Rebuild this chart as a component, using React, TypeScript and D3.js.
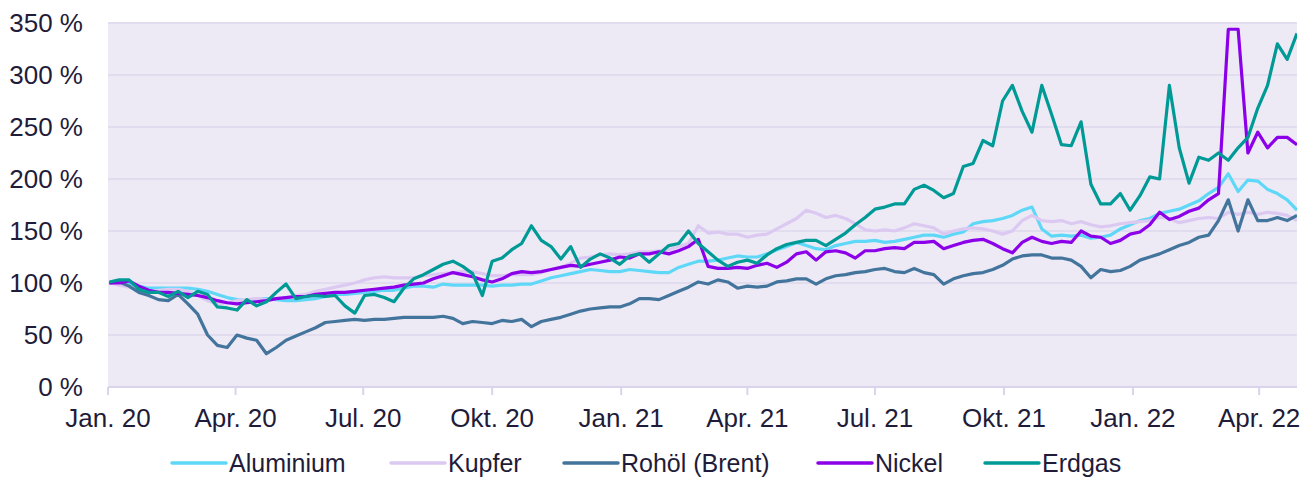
import React from "react";
import * as d3 from "d3";

// weekly closes, indexed to 100 % on 2 Jan 2020
const startDate = new Date(2020, 0, 2);
const weekCount = 122;
const dates: Date[] = d3.range(weekCount).map((i) => d3.timeDay.offset(startDate, i * 7));

const aluminium = [
  100, 100, 99, 97, 95, 95, 95, 95, 95, 94, 92, 89, 86, 84, 83, 84, 85, 84, 83, 83,
  84, 85, 87, 89, 89, 90, 91, 92, 93, 93, 95, 97, 97, 96, 99, 98, 98, 98, 98, 97,
  98, 98, 99, 99, 102, 105, 107, 109, 111, 113, 112, 111, 111, 113, 112, 111, 110, 110, 115, 118,
  121, 121, 122, 124, 126, 125, 125, 128, 132, 135, 139, 136, 133, 132, 136, 138, 140, 140, 141, 139,
  140, 142, 144, 146, 146, 144, 147, 149, 157, 159, 160, 162, 165, 170, 173, 152, 145, 146, 145, 146,
  143, 144, 146, 152, 156, 160, 162, 167, 169, 171, 175, 179, 186, 192, 205, 188, 199, 198, 190, 186,
  180, 170,
];

const kupfer = [
  100, 98, 96, 93, 92, 93, 94, 94, 92, 88, 83, 80, 81, 83, 84, 85, 84, 85, 86, 88,
  89, 92, 94, 96, 98, 100, 103, 105, 106, 105, 105, 105, 107, 108, 109, 110, 111, 111, 109, 107,
  107, 108, 108, 108, 110, 113, 115, 119, 124, 125, 127, 128, 127, 128, 130, 130, 131, 132, 135, 138,
  155, 148, 149, 147, 147, 144, 146, 147, 152, 157, 162, 170, 167, 163, 165, 162, 157, 151, 150, 151,
  150, 153, 157, 155, 153, 147, 150, 152, 153, 152, 150, 147, 150, 160, 165, 160, 159, 160, 157, 159,
  156, 154, 155, 157, 158, 159, 160, 163, 162, 158, 160, 162, 163, 162, 168, 166, 168, 166, 168, 167,
  165, 160,
];

const rohoel = [
  100, 101, 97, 91, 88, 84, 83, 89, 80, 70, 50, 40, 38, 50, 47, 45, 32, 38, 45, 49,
  53, 57, 62, 63, 64, 65, 64, 65, 65, 66, 67, 67, 67, 67, 68, 66, 61, 63, 62, 61,
  64, 63, 65, 58, 63, 65, 67, 70, 73, 75, 76, 77, 77, 80, 85, 85, 84, 88, 92, 96,
  101, 99, 103, 101, 95, 97, 96, 97, 101, 102, 104, 104, 99, 104, 107, 108, 110, 111, 113, 114,
  111, 110, 114, 110, 108, 99, 104, 107, 109, 110, 113, 117, 123, 126, 127, 127, 124, 124, 122, 116,
  105, 113, 111, 112, 116, 122, 125, 128, 132, 136, 139, 144, 146, 160, 180, 150, 180, 160, 160, 163,
  160, 165,
];

const nickel = [
  100, 100, 102, 97, 93, 91, 91, 90, 89, 88, 86, 83, 81, 80, 81, 82, 83, 85, 86, 87,
  87, 89, 90, 91, 91, 92, 93, 94, 95, 96, 98, 99, 100, 104, 107, 110, 108, 106, 103, 101,
  104, 109, 111, 110, 111, 113, 115, 117, 116, 118, 120, 122, 125, 124, 128, 128, 130, 128, 131, 135,
  142, 116, 114, 114, 115, 114, 117, 119, 115, 120, 128, 130, 122, 130, 131, 129, 124, 131, 131, 133,
  134, 133, 139, 139, 140, 133, 136, 139, 141, 142, 138, 133, 129, 139, 144, 140, 138, 140, 139, 150,
  145, 144, 138, 141, 147, 149, 156, 168, 161, 164, 169, 172, 180, 186, 344, 344, 225, 245, 230, 240,
  240, 233,
];

const erdgas = [
  101, 103, 103, 94, 91, 91, 87, 92, 86, 92, 89, 77, 76, 74, 84, 78, 82, 91, 99, 85,
  87, 88, 87, 88, 78, 71, 88, 89, 86, 82, 95, 104, 108, 113, 118, 121, 116, 109, 88, 121,
  124, 132, 138, 155, 141, 135, 123, 135, 115, 123, 128, 124, 118, 126, 128, 120, 128, 136, 138, 150,
  138, 130, 122, 116, 120, 122, 119, 127, 133, 137, 139, 141, 141, 136, 142, 148, 156, 163, 171, 173,
  176, 176, 190, 194, 189, 182, 186, 212, 215, 237, 232, 275, 290, 265, 245, 290, 262, 233, 232, 255,
  195, 176, 176, 186, 170, 184, 202, 200, 290, 230, 196, 221, 218, 225, 218, 230, 240, 268, 290, 330,
  315, 340,
];

const seriesNames = ["Aluminium", "Kupfer", "Rohöl (Brent)", "Nickel", "Erdgas"];
const seriesValues = [aluminium, kupfer, rohoel, nickel, erdgas];
const seriesColors = ["#5fd8f8", "#dcc9f1", "#43749c", "#8b00e8", "#009a96"];

const yTicks = [0, 50, 100, 150, 200, 250, 300, 350];
const monthNames = ["Jan.", "Feb.", "Mär.", "Apr.", "Mai", "Jun.", "Jul.", "Aug.", "Sep.", "Okt.", "Nov.", "Dez."];

const W = 1302;
const H = 477;
const left = 108;
const right = 1297;
const top = 23;
const bottom = 387;
const textColor = "#1f1c3a";
const font = "'Liberation Sans', Arial, sans-serif";

export default function App() {
  const x = d3
    .scaleTime()
    .domain([new Date(2020, 0, 1), dates[dates.length - 1]])
    .range([left, right]);
  const y = d3.scaleLinear().domain([0, 350]).range([bottom, top]);

  const xTicks = d3.timeMonth.every(3)!.range(new Date(2020, 0, 1), dates[dates.length - 1]);

  const line = d3
    .line<number>()
    .x((_, i) => x(dates[i]))
    .y((d) => y(d));

  // legend layout
  const legendX = [172, 391, 564, 818, 985];

  return (
    <svg
      width={W}
      height={H}
      style={{ position: "absolute", left: 0, top: 0, background: "#fff" }}
      fontFamily={font}
    >
      <rect x={left} y={top} width={right - left} height={bottom - top} fill="#edeaf6" />
      {yTicks.map((t) => (
        <g key={t}>
          {t > 0 && (
            <line x1={left} x2={right} y1={y(t)} y2={y(t)} stroke="#e2ddee" strokeWidth={2} />
          )}
          <text x={83} y={y(t)} dy="0.36em" textAnchor="end" fontSize={26} fill={textColor}>
            {`${t} %`}
          </text>
        </g>
      ))}
      <line x1={left} x2={right} y1={bottom} y2={bottom} stroke="#d9d3ec" strokeWidth={2} />
      {xTicks.map((d) => (
        <g key={d.getTime()}>
          <line x1={x(d)} x2={x(d)} y1={bottom} y2={bottom + 8} stroke="#d9d3ec" strokeWidth={2} />
          <text x={x(d)} y={427} textAnchor="middle" fontSize={26} fill={textColor}>
            {`${monthNames[d.getMonth()]} ${String(d.getFullYear()).slice(2)}`}
          </text>
        </g>
      ))}
      <defs>
        <clipPath id="plot">
          <rect x={left} y={top - 2} width={right - left} height={bottom - top + 2} />
        </clipPath>
      </defs>
      <g clipPath="url(#plot)">
        {seriesValues.map((vals, k) => (
          <path
            key={seriesNames[k]}
            d={line(vals) ?? ""}
            fill="none"
            stroke={seriesColors[k]}
            strokeWidth={3.2}
            strokeLinejoin="round"
          />
        ))}
      </g>
      {seriesNames.map((name, k) => (
        <g key={name} transform={`translate(${legendX[k]},463)`}>
          <line x1={0} x2={54} y1={0} y2={0} stroke={seriesColors[k]} strokeWidth={3.5} strokeLinecap="round" />
          <text x={57} y={8.5} fontSize={25} fill={textColor}>
            {name}
          </text>
        </g>
      ))}
    </svg>
  );
}
